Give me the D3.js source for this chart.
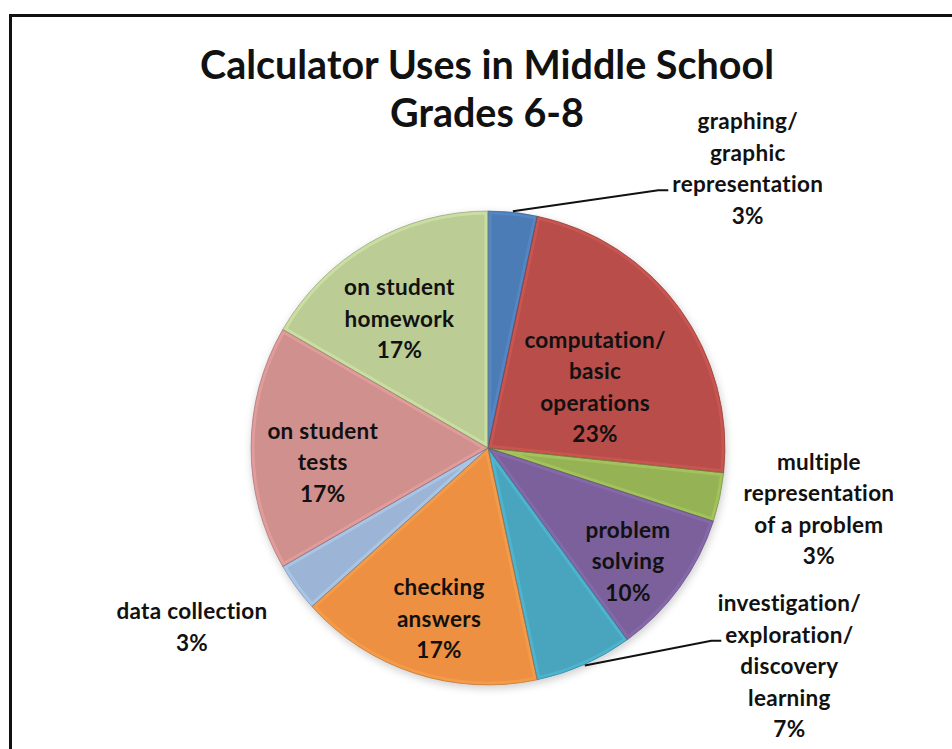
<!DOCTYPE html>
<html>
<head>
<meta charset="utf-8">
<script src="https://cdn.jsdelivr.net/npm/d3@7/dist/d3.min.js"></script>
<style>
  body { margin: 0; background: #fff; }
  svg text { font-family: Lato, "Open Sans", sans-serif; font-weight: bold; fill: #111; }
</style>
</head>
<body>
<svg id="chart" width="952" height="749"></svg>
<script>
// survey responses per calculator use (30 teachers), clockwise from 12 o'clock
var categories = [
  "graphing/ graphic representation",
  "computation/ basic operations",
  "multiple representation of a problem",
  "problem solving",
  "investigation/ exploration/ discovery learning",
  "checking answers",
  "data collection",
  "on student tests",
  "on student homework"
];
var responses = [1, 7, 1, 3, 2, 5, 1, 5, 5];
var labelLines = [
  ["graphing/", "graphic", "representation"],
  ["computation/", "basic", "operations"],
  ["multiple", "representation", "of a problem"],
  ["problem", "solving"],
  ["investigation/", "exploration/", "discovery", "learning"],
  ["checking", "answers"],
  ["data collection"],
  ["on student", "tests"],
  ["on student", "homework"]
];
var titleLines = ["Calculator Uses in Middle School", "Grades 6-8"];
var colors = ["#4f81bd", "#c0504d", "#9bbb59", "#8064a2", "#4bacc6", "#f79646", "#a3bde0", "#d99694", "#c3d69b"];

// label placement: [angle in degrees, radius factor, leader line attach line index or -1]
var labelLayout = [
  [42.9, 1.61, 2],
  [60.3, 0.52, -1],
  [100.5, 1.42, -1],
  [129, 0.76, -1],
  [125.9, 1.57, 1],
  [196, 0.75, -1],
  [238.8, 1.46, -1],
  [265, 0.70, -1],
  [325.5, 0.66, -1]
];

var svg = d3.select("#chart");
var cx = 488, cy = 448, R = 237;
var lineH = 31.5;
var total = d3.sum(responses);

// frame
svg.append("path")
  .attr("d", "M10.5,760 L10.5,15.5 L960,15.5")
  .attr("fill", "none")
  .attr("stroke", "#111")
  .attr("stroke-width", 3);

// title
svg.selectAll("text.title")
  .data(titleLines)
  .enter().append("text")
  .attr("class", "title")
  .attr("x", 487)
  .attr("y", function(d, i) { return 79 + i * 48; })
  .attr("text-anchor", "middle")
  .style("font-size", "39.5px")
  .text(function(d) { return d; });

var defs = svg.append("defs");
var shadow = defs.append("filter").attr("id", "shadow")
  .attr("x", "-10%").attr("y", "-10%").attr("width", "120%").attr("height", "120%");
shadow.append("feGaussianBlur").attr("in", "SourceAlpha").attr("stdDeviation", 4);
shadow.append("feOffset").attr("dx", 1).attr("dy", 3).attr("result", "b");
shadow.append("feComponentTransfer").append("feFuncA").attr("type", "linear").attr("slope", 0.2);
var m = shadow.append("feMerge");
m.append("feMergeNode");
m.append("feMergeNode").attr("in", "SourceGraphic");

colors.forEach(function(c, i) {
  var g = defs.append("radialGradient").attr("id", "grad" + i)
    .attr("gradientUnits", "userSpaceOnUse")
    .attr("cx", cx).attr("cy", cy).attr("r", R);
  g.append("stop").attr("offset", "0%").attr("stop-color", d3.color(c).darker(0.1));
  g.append("stop").attr("offset", "70%").attr("stop-color", c);
  g.append("stop").attr("offset", "100%").attr("stop-color", d3.color(c).darker(0.12));
});

var pie = d3.pie().sort(null).value(function(d) { return d; });
var arcs = pie(responses);
var arc = d3.arc().innerRadius(0).outerRadius(R);
var deg = d3.scaleLinear().domain([0, 360]).range([0, 2 * Math.PI]);

var g = svg.append("g").attr("transform", "translate(" + cx + "," + cy + ")");
var pieG = g.append("g").attr("filter", "url(#shadow)");

arcs.forEach(function(a, i) {
  defs.append("clipPath").attr("id", "clip" + i)
    .append("path").attr("d", arc(a));
});

pieG.selectAll("path.slice")
  .data(arcs)
  .enter().append("path")
  .attr("class", "slice")
  .attr("d", arc)
  .attr("fill", function(d, i) { return "url(#grad" + i + ")"; });

// bevel highlight along slice edges
pieG.selectAll("path.bevel")
  .data(arcs)
  .enter().append("path")
  .attr("class", "bevel")
  .attr("d", arc)
  .attr("clip-path", function(d, i) { return "url(#clip" + i + ")"; })
  .attr("fill", "none")
  .attr("stroke", function(d, i) { return d3.color(colors[i]).brighter(0.5); })
  .attr("stroke-opacity", 0.35)
  .attr("stroke-width", 7);

pieG.selectAll("path.outline")
  .data(arcs)
  .enter().append("path")
  .attr("class", "outline")
  .attr("d", arc)
  .attr("fill", "none")
  .attr("stroke", function(d, i) { return d3.color(colors[i]).darker(1); })
  .attr("stroke-opacity", 0.6)
  .attr("stroke-width", 1);

// labels
arcs.forEach(function(a, i) {
  var lay = labelLayout[i];
  var ang = deg(lay[0]), r = lay[1] * R;
  var lx = r * Math.sin(ang), ly = -r * Math.cos(ang);
  var pct = Math.round(responses[i] / total * 100) + "%";
  var lines = labelLines[i].concat([pct]);
  var y0 = ly - (lines.length - 1) * lineH / 2;
  var tg = g.append("g");
  var texts = tg.selectAll("text")
    .data(lines)
    .enter().append("text")
    .attr("x", lx)
    .attr("y", function(d, j) { return y0 + j * lineH; })
    .attr("dy", "0.35em")
    .attr("text-anchor", "middle")
    .style("font-size", "22.5px")
    .style("letter-spacing", "0.3px")
    .text(function(d) { return d; });

  if (lay[2] >= 0) {
    var node = texts.nodes()[lay[2]];
    var w = node.getComputedTextLength();
    var ex = lx - w / 2 - 4, ey = y0 + lay[2] * lineH + 6;
    var mid = (a.startAngle + a.endAngle) / 2;
    var sx = (R + 1) * Math.sin(mid), sy = -(R + 1) * Math.cos(mid);
    g.append("polyline")
      .attr("points", [[sx, sy], [ex - 10, ey], [ex, ey]].map(function(p) { return p.join(","); }).join(" "))
      .attr("fill", "none")
      .attr("stroke", "#111")
      .attr("stroke-width", 2);
  }
});
</script>
</body>
</html>
